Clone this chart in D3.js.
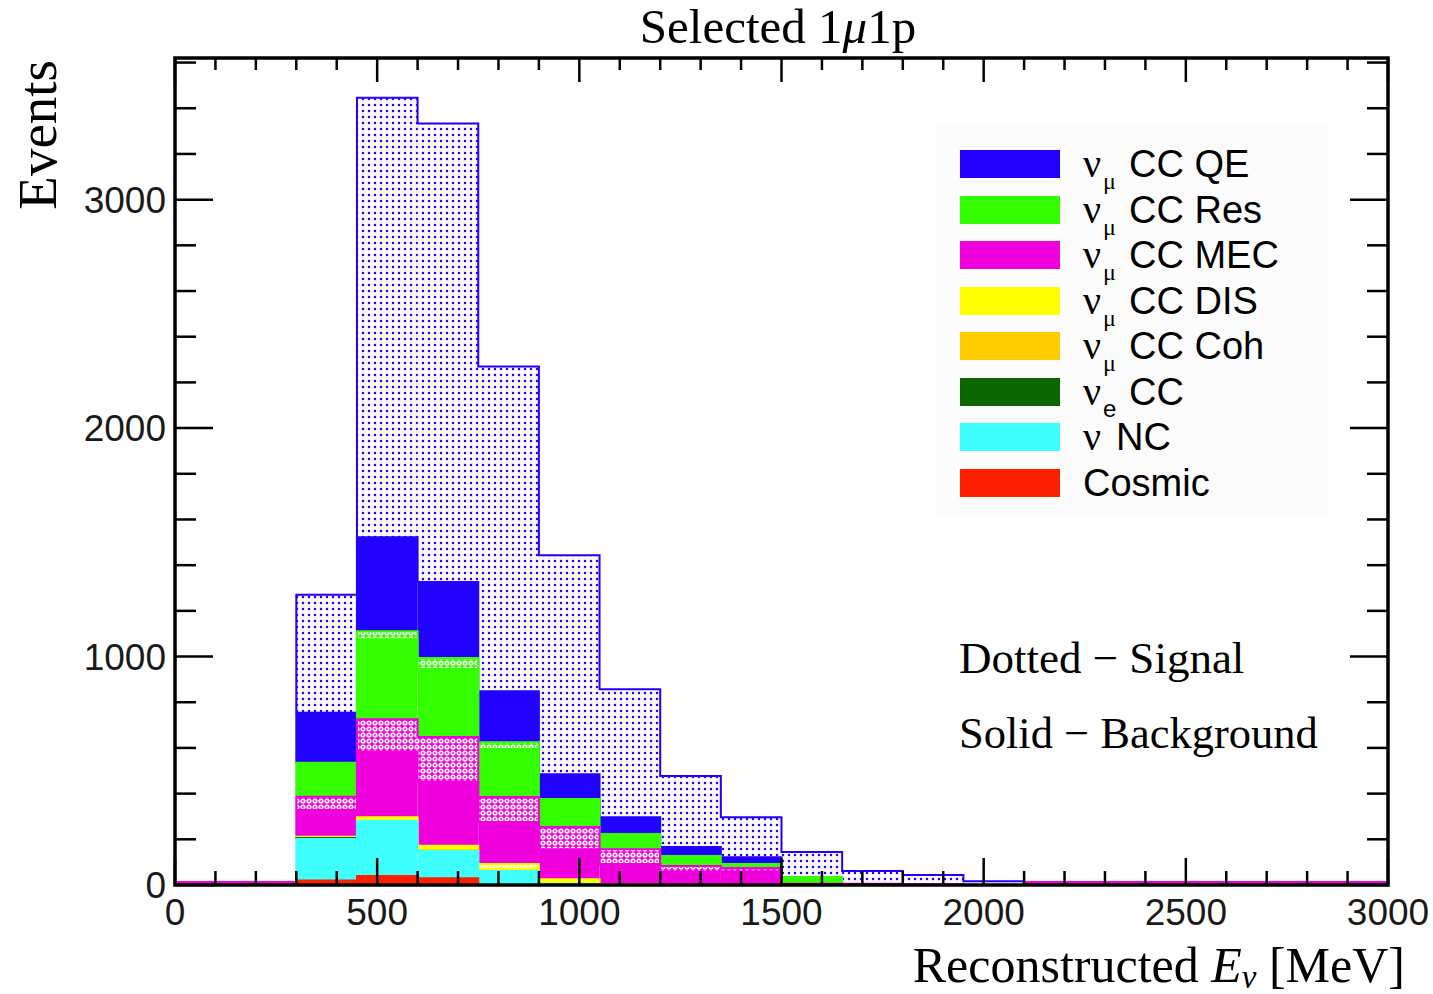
<!DOCTYPE html>
<html><head><meta charset="utf-8">
<script src="https://cdn.jsdelivr.net/npm/d3@7/dist/d3.min.js"></script>
<style>body{margin:0;background:#fff;} svg{display:block}</style>
</head><body>
<svg id="c" width="1433" height="994"></svg>
<script>
// ---- data ----
const binStarts = [300,450,600,750,900,1050,1200,1350,1500,1650,1800,1950];
const binWidth = 150;
const cosmic = [20,39,30,0,0,0,0,0,0,0,0,0];
const nuNC   = [181,241,119,61,5,0,0,0,0,0,0,0];
const nueCC  = [5,0,0,0,0,0,0,0,0,0,0,0];
const ccCoh  = [0,0,3,0,0,0,0,0,0,0,0,0];
const disBg  = [5,17,20,9,20,3,0,0,0,0,0,0];
const disSig = [0,0,0,22,0,0,0,0,0,0,0,0];
const mecBg  = [118,285,279,184,132,89,57,57,5,5,3,0];
const mecSig = [57,144,197,109,97,65,26,17,0,0,0,0];
const resBg  = [149,350,298,210,122,66,44,18,30,0,0,0];
const resSig = [0,35,48,30,0,0,0,0,0,0,0,0];
const qeBg   = [219,411,332,223,109,74,39,30,0,0,0,0];
const qeSig  = [516,1924,2007,1422,958,560,311,175,109,56,41,16];

const xMajorTicks = [0,500,1000,1500,2000,2500,3000];
const yMajorTicks = [0,1000,2000,3000];
const legendNames = [
  {nu:"ν", sub:"μ", rest:"CC QE"},
  {nu:"ν", sub:"μ", rest:"CC Res"},
  {nu:"ν", sub:"μ", rest:"CC MEC"},
  {nu:"ν", sub:"μ", rest:"CC DIS"},
  {nu:"ν", sub:"μ", rest:"CC Coh"},
  {nu:"ν", sub:"e", rest:"CC"},
  {nu:"ν", sub:"", rest:"NC"},
  {nu:"", sub:"", rest:"Cosmic"}
];
const colQE="#2200ff", colRes="#33ff00", colMEC="#f000dc", colDIS="#ffff00",
      colCoh="#ffcc00", colNue="#0a6600", colNC="#40ffff", colCos="#ff2000";
const legendColors = [colQE,colRes,colMEC,colDIS,colCoh,colNue,colNC,colCos];

const layers = [
  {key:"cosmic", vals:cosmic, color:colCos, dotted:false},
  {key:"nc", vals:nuNC, color:colNC, dotted:false},
  {key:"nue", vals:nueCC, color:colNue, dotted:false},
  {key:"coh", vals:ccCoh, color:colCoh, dotted:false},
  {key:"disBg", vals:disBg, color:colDIS, dotted:false},
  {key:"disSig", vals:disSig, color:colDIS, dotted:true},
  {key:"mecBg", vals:mecBg, color:colMEC, dotted:false},
  {key:"mecSig", vals:mecSig, color:colMEC, dotted:true},
  {key:"resBg", vals:resBg, color:colRes, dotted:false},
  {key:"resSig", vals:resSig, color:colRes, dotted:true},
  {key:"qeBg", vals:qeBg, color:colQE, dotted:false},
  {key:"qeSig", vals:qeSig, color:colQE, dotted:true}
];

// ---- layout ----
const L=175, R=1388, T=58, B=885;
const svg = d3.select("#c");
const x = d3.scaleLinear().domain([0,3000]).range([L,R]);
const y = d3.scaleLinear().domain([0,3620]).range([B,T]);

// patterns
const defs = svg.append("defs");
layers.filter(l=>l.dotted).forEach(l=>{
  const p = defs.append("pattern").attr("id","pat-"+l.key)
    .attr("patternUnits","userSpaceOnUse").attr("width",6).attr("height",6);
  if (l.key==="qeSig") {
    p.append("rect").attr("width",6).attr("height",6).attr("fill","#fbfaff");
    p.append("circle").attr("cx",3).attr("cy",3).attr("r",1.25).attr("fill",l.color);
  } else {
    p.append("rect").attr("width",6).attr("height",6).attr("fill",l.color);
    p.append("circle").attr("cx",3).attr("cy",3).attr("r",2.6).attr("fill","#fff");
    p.append("circle").attr("cx",3).attr("cy",3).attr("r",0.9).attr("fill",l.color);
  }
});

// stack
const rows = binStarts.map((s,i)=>{
  const r = {start:s};
  layers.forEach(l=>r[l.key]=l.vals[i]);
  return r;
});
const stacked = d3.stack().keys(layers.map(l=>l.key))(rows);

// magenta zero line (empty histogram level)
svg.append("line").attr("x1",x(0)).attr("x2",x(3000))
  .attr("y1",y(0)-2.5).attr("y2",y(0)-2.5)
  .attr("stroke",colMEC).attr("stroke-width",3);

// draw top layers first (ROOT THStack order): fill, then step outline
for (let li=layers.length-1; li>=0; li--) {
  const l = layers[li];
  const s = stacked[li];
  const g = svg.append("g");
  g.selectAll("rect").data(s.filter(d=>d[1]-d[0]>0)).join("rect")
    .attr("x",d=>x(d.data.start))
    .attr("width",d=>x(d.data.start+binWidth)-x(d.data.start))
    .attr("y",d=>y(d[1]))
    .attr("height",d=>y(d[0])-y(d[1]))
    .attr("fill",l.dotted?`url(#pat-${l.key})`:l.color);
  const idx = s.map((d,i)=>d[1]-d[0]>0?i:-1).filter(i=>i>=0);
  if (!idx.length) continue;
  const i0 = idx[0], i1 = idx[idx.length-1];
  let p = d3.path();
  p.moveTo(x(s[i0].data.start), y(s[i0][0]));
  for (let i=i0;i<=i1;i++){
    p.lineTo(x(s[i].data.start), y(s[i][1]));
    p.lineTo(x(s[i].data.start+binWidth), y(s[i][1]));
  }
  p.lineTo(x(s[i1].data.start+binWidth), y(s[i1][0]));
  g.append("path").attr("d",p.toString()).attr("fill","none")
    .attr("stroke",l.color).attr("stroke-width",2);
}

// frame
svg.append("rect").attr("x",L).attr("y",T).attr("width",R-L).attr("height",B-T)
  .attr("fill","none").attr("stroke","#000").attr("stroke-width",3.5);

// ticks
const xMinor = d3.range(0,3001,100).filter(v=>v%500!==0);
const yMinor = d3.range(0,3601,200).filter(v=>v%1000!==0);
const tk = svg.append("g").attr("stroke","#000").attr("stroke-width",2.5);
function tick(x1,y1,x2,y2){tk.append("line").attr("x1",x1).attr("y1",y1).attr("x2",x2).attr("y2",y2);}
xMajorTicks.forEach(v=>{tick(x(v),B,x(v),B-27);tick(x(v),T,x(v),T+24);});
xMinor.forEach(v=>{tick(x(v),B,x(v),B-14);tick(x(v),T,x(v),T+12);});
yMajorTicks.forEach(v=>{tick(L,y(v),L+38,y(v));tick(R,y(v),R-38,y(v));});
yMinor.forEach(v=>{tick(L,y(v),L+21,y(v));tick(R,y(v),R-21,y(v));});

// tick labels
const lab = svg.append("g").attr("font-family","'Liberation Sans', Arial, sans-serif")
  .attr("font-size",37).attr("fill","#1a1a1a");
lab.selectAll(".xl").data(xMajorTicks).join("text").attr("class","xl")
  .attr("x",d=>x(d)).attr("y",925).attr("text-anchor","middle").text(d=>d);
lab.selectAll(".yl").data(yMajorTicks).join("text").attr("class","yl")
  .attr("x",L-9).attr("y",d=>y(d)+13).attr("text-anchor","end").text(d=>d);

// titles
const serif = "'Liberation Serif', 'Times New Roman', serif";
const title = svg.append("text").attr("x",778).attr("y",43).attr("text-anchor","middle")
  .attr("font-family",serif).attr("font-size",49).attr("fill","#000");
title.append("tspan").text("Selected 1");
title.append("tspan").attr("font-style","italic").text("μ");
title.append("tspan").text("1p");

svg.append("text").attr("transform","translate(56,60) rotate(-90)")
  .attr("text-anchor","end").attr("font-family",serif).attr("font-size",55)
  .attr("fill","#000").text("Events");

const xt = svg.append("text").attr("x",1405).attr("y",982).attr("text-anchor","end")
  .attr("font-family",serif).attr("font-size",50).attr("fill","#000");
xt.append("tspan").text("Reconstructed ");
xt.append("tspan").attr("font-style","italic").text("E");
xt.append("tspan").attr("font-style","italic").attr("font-size",33).attr("dy",6).text("ν");
xt.append("tspan").attr("dy",-6).text(" [MeV]");

// legend
svg.append("rect").attr("x",937).attr("y",125).attr("width",392).attr("height",393)
  .attr("fill","#fcfcfc");
const legY = [164,210,255,301,346,392,437,483];
legendNames.forEach((n,i)=>{
  svg.append("rect").attr("x",960).attr("y",legY[i]-14).attr("width",100).attr("height",28)
    .attr("fill",legendColors[i]);
  const t = svg.append("g").attr("font-size",38).attr("fill","#000");
  let xr = 1083;
  if (n.nu) {
    t.append("text").attr("x",1083).attr("y",legY[i]+13).attr("font-family",serif)
      .attr("font-size",40).text(n.nu);
    if (n.sub) {
      t.append("text").attr("x",1103).attr("y",legY[i]+25)
        .attr("font-family", n.sub==="μ"?serif:"'Liberation Sans', Arial, sans-serif")
        .attr("font-size",24).text(n.sub);
      xr = 1129;
    } else xr = 1116;
  }
  t.append("text").attr("x",xr).attr("y",legY[i]+13)
    .attr("font-family","'Liberation Sans', Arial, sans-serif").text(n.rest);
});

svg.append("text").attr("x",959).attr("y",673).attr("font-family",serif)
  .attr("font-size",45).text("Dotted − Signal");
svg.append("text").attr("x",959).attr("y",748).attr("font-family",serif)
  .attr("font-size",44.5).text("Solid − Background");
</script>
</body></html>
